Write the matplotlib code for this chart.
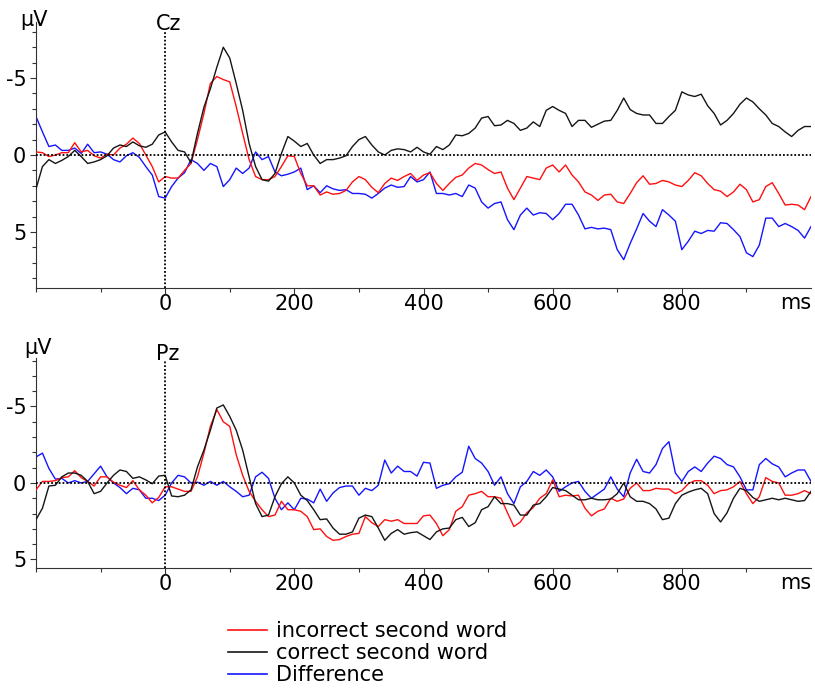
"""
ERP waveforms at Cz and Pz: incorrect vs correct second word and their difference
"""
import numpy as np
import matplotlib
matplotlib.use('Agg')
import matplotlib.pyplot as plt
from matplotlib.ticker import FixedLocator, FixedFormatter, NullFormatter
from matplotlib.lines import Line2D

# sample times in ms (10 ms grid, -200 .. 1000)
time_ms = np.arange(-200, 1001, 10)

# --- Cz (µV, negative plotted upward) ---
cz_incorrect = [
    -0.2, -0.15, 0.1, 0.0, -0.15, -0.15, -0.8, -0.2, -0.3, 0.05,
    0.2, -0.05, 0.0, -0.45, -0.7, -1.1, -0.75, 0.0, 0.75, 1.75,
    1.4, 1.5, 1.5, 1.0, 0.55, -1.0, -2.7, -4.65, -5.1, -4.9,
    -4.75, -3.15, -1.4, 0.3, 1.4, 1.6, 1.6, 1.4, 0.75, 0.05,
    0.1, 1.2, 2.0, 2.0, 2.6, 2.4, 2.55, 2.5, 2.3, 1.75,
    1.4, 1.6, 2.1, 2.45, 1.85, 1.5, 1.65, 1.4, 1.2, 1.65,
    1.3, 1.15, 1.85, 2.3, 1.85, 1.45, 1.3, 0.85, 0.55, 0.65,
    0.95, 1.2, 1.1, 2.15, 2.9, 2.15, 1.4, 1.5, 1.6, 0.85,
    0.65, 1.1, 0.65, 1.3, 1.75, 2.4, 2.6, 2.95, 2.6, 2.55,
    3.05, 3.15, 2.5, 1.8, 1.35, 1.9, 1.85, 1.65, 1.75, 1.95,
    2.05, 1.65, 1.15, 1.35, 1.85, 2.25, 2.35, 2.7, 2.4, 1.9,
    2.25, 3.05, 2.9, 2.05, 1.8, 2.5, 3.25, 3.2, 3.25, 3.55,
    2.7]
cz_correct = [
    2.2, 0.75, 0.3, 0.55, 0.35, 0.1, -0.3, 0.1, 0.55, 0.45,
    0.3, 0.05, -0.45, -0.65, -0.55, -0.85, -0.6, -0.5, -0.7, -1.3,
    -1.5, -0.85, -0.3, -0.2, 0.5, -1.4, -3.1, -4.3, -5.7, -7.0,
    -6.3, -4.65, -2.9, -0.75, 0.75, 1.6, 1.7, 1.2, -0.1, -1.2,
    -0.9, -0.55, -0.75, 0.0, 0.55, 0.3, 0.3, 0.2, 0.05, -0.55,
    -1.0, -1.2, -0.65, -0.2, 0.0, -0.3, -0.4, -0.35, -0.2, -0.5,
    -0.2, -0.05, -0.55, -0.35, -0.65, -1.3, -1.25, -1.4, -1.75, -2.4,
    -2.5, -1.9, -1.95, -2.25, -2.05, -1.6, -1.75, -2.15, -1.85, -2.9,
    -3.15, -2.9, -2.7, -1.85, -2.25, -2.25, -1.8, -2.0, -2.2, -2.25,
    -2.9, -3.7, -2.95, -2.7, -2.6, -2.6, -2.05, -2.05, -2.5, -2.9,
    -4.1, -3.9, -3.8, -3.95, -3.2, -2.7, -1.95, -2.25, -2.7, -3.3,
    -3.7, -3.45, -3.0, -2.6, -2.05, -1.85, -1.5, -1.2, -1.6, -1.85,
    -1.85]
cz_difference = [
    -2.5, -1.5, -0.55, -0.65, -0.3, -0.3, -0.45, -0.1, -0.7, -0.15,
    -0.2, -0.05, 0.3, 0.45, 0.05, -0.15, 0.15, 0.75, 1.3, 2.7,
    2.8, 2.05, 1.5, 1.15, 0.3, 0.55, 1.0, 0.55, 0.75, 2.05,
    1.6, 0.85, 1.2, 0.85, -0.2, 0.3, 0.1, 1.1, 1.35, 1.25,
    1.1, 0.85, 2.25, 2.0, 2.45, 2.0, 2.2, 2.3, 2.25, 2.5,
    2.5, 2.55, 2.8, 2.5, 2.15, 1.95, 2.1, 2.05, 1.4, 1.75,
    1.6, 1.1, 2.5, 2.5, 2.6, 2.5, 2.7, 1.95, 2.15, 3.05,
    3.45, 3.15, 3.05, 4.2, 4.85, 3.9, 3.45, 3.9, 3.75, 3.8,
    4.2, 3.8, 3.2, 3.2, 3.9, 4.8, 4.7, 4.8, 4.75, 4.85,
    6.15, 6.8, 5.75, 4.8, 3.8, 4.3, 4.65, 3.55, 3.9, 4.3,
    6.15, 5.6, 4.95, 5.1, 4.9, 4.95, 4.4, 4.45, 4.85, 5.3,
    6.35, 6.6, 5.85, 4.1, 4.1, 4.65, 4.45, 4.65, 4.9, 5.4,
    4.65]

# --- Pz ---
pz_incorrect = [
    0.45, -0.1, -0.1, -0.15, -0.35, -0.4, -0.8, -0.35, -0.1, 0.2,
    -0.4, -0.4, -0.05, 0.15, 0.3, -0.15, 0.45, 0.8, 1.3, 0.95,
    0.25, 0.25, 0.4, 0.55, 0.55, -0.4, -1.95, -3.7, -4.8, -4.0,
    -3.7, -1.85, -0.5, 0.55, 1.2, 1.75, 2.2, 2.1, 1.2, 1.75,
    1.75, 1.85, 2.2, 3.05, 3.0, 3.5, 3.75, 3.7, 3.5, 3.35,
    3.3, 2.2, 2.6, 2.85, 2.4, 2.5, 2.4, 2.65, 2.65, 2.65,
    2.15, 2.1, 2.65, 3.45, 3.05, 1.85, 1.55, 0.8, 0.7, 0.55,
    0.9, 0.9, 1.0, 1.95, 2.85, 2.55, 1.95, 1.6, 1.0, 0.7,
    -0.2, 0.9, 0.8, 0.85, 0.8, 1.65, 2.15, 1.85, 1.7, 1.0,
    1.2, 1.05, 0.35, 0.0, 0.5, 0.5, 0.35, 0.4, 0.4, 0.7,
    0.5, 0.05, -0.15, -0.15, 0.15, 0.7, 0.5, 0.45, 0.25, -0.1,
    0.7, 1.35, 0.9, -0.35, -0.1, 0.0, 0.8, 0.8, 0.7, 0.5,
    0.7]
pz_correct = [
    2.4, 1.65, 0.2, 0.15, -0.4, -0.65, -0.65, -0.5, -0.1, 0.7,
    0.55, 0.0, -0.5, -0.85, -0.75, -0.3, -0.4, -0.2, 0.05, -0.45,
    -0.5, 0.85, 0.9, 0.8, 0.45, -1.05, -2.15, -3.45, -4.9, -5.1,
    -4.35, -3.45, -2.15, -0.4, 1.35, 2.2, 2.1, 0.9, 0.05, -0.4,
    0.0, 0.8, 1.15, 1.75, 2.4, 2.35, 2.95, 3.35, 3.35, 3.2,
    2.3, 2.1, 2.2, 2.95, 3.75, 3.3, 3.05, 3.35, 3.25, 3.2,
    3.45, 3.7, 3.2, 3.0, 2.95, 2.4, 2.25, 2.85, 2.6, 1.75,
    1.55, 0.9, 1.35, 1.35, 1.45, 2.1, 2.1, 1.45, 1.35, 0.9,
    0.3, 0.4, 0.5, 0.8, 1.1, 1.1, 1.0, 1.1, 1.1, 1.05,
    0.7, 0.0, 0.9, 1.2, 1.2, 1.35, 1.7, 2.4, 2.3, 1.35,
    0.8, 0.6, 0.45, 0.35, 0.7, 2.0, 2.55, 1.95, 1.0, 0.35,
    0.5, 0.95, 1.2, 1.1, 1.0, 1.1, 1.0, 1.1, 1.2, 1.15,
    0.55]
pz_difference = [
    -1.7, -1.95, -0.95, -0.25, -0.3, 0.0, -0.15, 0.0, -0.1, -0.6,
    -1.1, -0.4, 0.0, 0.3, 0.7, 0.35, 0.45, 1.0, 1.0, 1.15,
    0.8, 0.0, -0.5, -0.4, 0.0, -0.05, 0.15, -0.1, 0.15, -0.1,
    0.25, 0.55, 0.9, 0.8, -0.4, -0.7, -0.3, 1.0, 1.75, 1.3,
    1.75, 1.0, 1.05, 1.3, 0.4, 1.2, 0.65, 0.3, 0.2, 0.2,
    0.8, 0.35, 0.5, 0.15, -1.5, -0.65, -1.1, -0.75, -0.75, -0.45,
    -1.35, -1.3, 0.35, 0.15, 0.05, -0.4, -0.7, -2.4, -1.6, -1.3,
    -0.75, 0.15, -0.4, 0.7, 1.35, 0.25, -0.1, -0.75, -0.5, -0.85,
    -0.4, 0.55, 0.25, 0.0, -0.1, 0.55, 1.0, 0.7, 0.4, -0.4,
    0.4, 0.9, -0.65, -1.55, -0.75, -0.65, -1.2, -2.25, -2.7, -0.65,
    -0.1, -0.75, -1.05, -0.75, -1.3, -1.75, -1.6, -1.2, -1.05, -0.4,
    0.45, 0.45, -1.2, -1.6, -1.25, -1.05, -0.4, -0.65, -0.85, -0.85,
    -0.1]

series_labels = ['incorrect second word', 'correct second word', 'Difference']
series_colors = ['#ff1010', '#151515', '#1515ff']

x_major = [0, 200, 400, 600, 800]
x_major_labels = ['0', '200', '400', '600', '800']
x_minor = [-200, -100, 100, 300, 500, 700, 900]
y_major = [-5, 0, 5]
y_major_labels = ['-5', '0', '5']

FS = 15
W, H = 815.0, 695.0

fig = plt.figure(figsize=(W / 100, H / 100), dpi=100)
ax_cz = fig.add_axes([36 / W, 1 - 288 / H, 775 / W, 266 / H])
ax_pz = fig.add_axes([36 / W, 1 - 568 / H, 775 / W, 210 / H])


def draw_panel(ax, incorrect, correct, diff, ylim, yminor, vtop):
    lines = []
    for vals, c, lab in zip([incorrect, correct, diff], series_colors, series_labels):
        ln, = ax.plot(time_ms, vals, color=c, lw=1.0, label=lab, zorder=3)
        lines.append(ln)
    lines[2].set_zorder(2)
    dots = (0, (1, 1.1))
    ax.axhline(0, color='black', lw=1.3, ls=dots, zorder=4)
    ax.axvline(0, ymin=0, ymax=vtop, color='black', lw=1.3, ls=dots, zorder=4)
    ax.set_xlim(-200, 1000)
    ax.set_ylim(*ylim)
    for s in ['top', 'right']:
        ax.spines[s].set_visible(False)
    ax.spines['left'].set_color('#333333')
    ax.spines['bottom'].set_color('#333333')
    ax.xaxis.set_major_locator(FixedLocator(x_major))
    ax.xaxis.set_major_formatter(FixedFormatter(x_major_labels))
    ax.xaxis.set_minor_locator(FixedLocator(x_minor))
    ax.yaxis.set_major_locator(FixedLocator(y_major))
    ax.yaxis.set_major_formatter(FixedFormatter(y_major_labels))
    ax.yaxis.set_minor_locator(FixedLocator(yminor))
    ax.yaxis.set_minor_formatter(NullFormatter())
    ax.tick_params(axis='both', which='major', length=4, width=0.8, labelsize=FS, color='#333333')
    ax.tick_params(axis='both', which='minor', length=3, width=0.8, color='#333333')
    ax.tick_params(axis='x', which='major', pad=0.5)
    ax.tick_params(axis='y', which='major', pad=3)
    ax.annotate('ms', xy=(1000, 0), xycoords=('data', 'axes fraction'),
                xytext=(0, -3.4), textcoords='offset points',
                ha='right', va='top', fontsize=FS)
    return lines


lines = draw_panel(ax_cz, cz_incorrect, cz_correct, cz_difference,
                   (8.64, -8.64), list(range(-8, 9)), 0.966)
draw_panel(ax_pz, pz_incorrect, pz_correct, pz_difference,
           (5.56, -8.17), list(range(-8, 6)), 0.99)

# electrode names and unit labels
fig.text(168.5 / W, 1 - 29.5 / H, 'Cz', ha='center', va='baseline', fontsize=FS)
fig.text(167.5 / W, 1 - 359.5 / H, 'Pz', ha='center', va='baseline', fontsize=FS)
fig.text(33.5 / W, 1 - 26 / H, 'µV', ha='center', va='baseline', fontsize=FS)
fig.text(38 / W, 1 - 354 / H, 'µV', ha='center', va='baseline', fontsize=FS)

handles = [Line2D([], [], color=c, lw=1.2) for c in series_colors]
fig.legend(handles, series_labels, loc='center left',
           bbox_to_anchor=(228 / W, 1 - 653 / H), frameon=False,
           fontsize=FS, handlelength=1.86, handletextpad=0.45,
           labelspacing=0.1, borderpad=0, borderaxespad=0)

fig.savefig('out.png', dpi=100)
